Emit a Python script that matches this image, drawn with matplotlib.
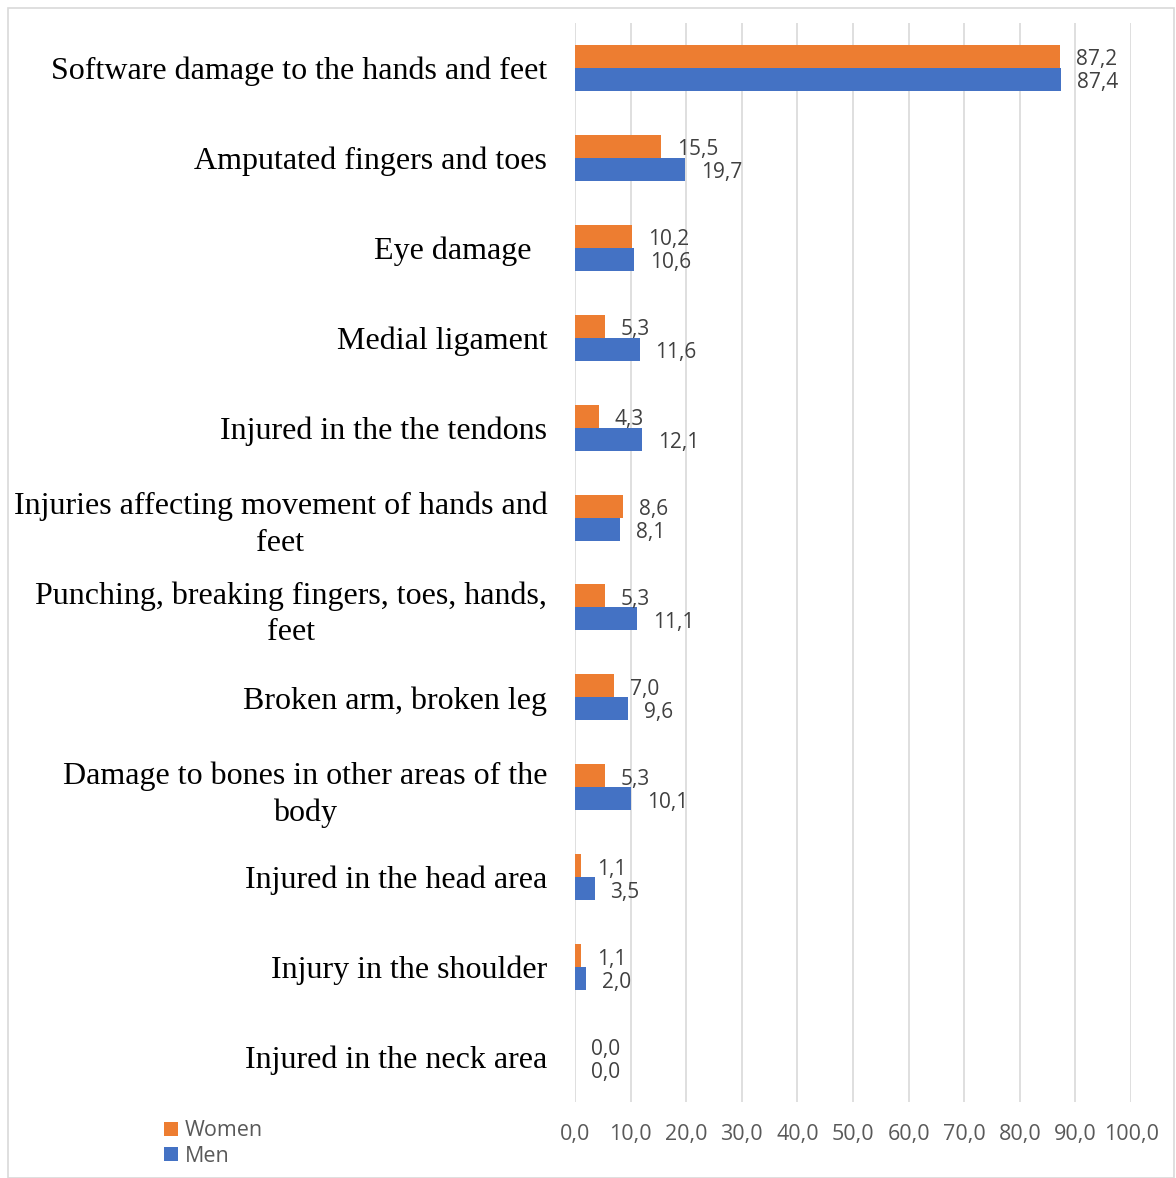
import matplotlib.pyplot as plt
import numpy as np
from matplotlib.patches import Rectangle

categories = [
    "Software damage to the hands and feet",
    "Amputated fingers and toes",
    "Eye damage  ",
    "Medial ligament",
    "Injured in the the tendons",
    "Injuries affecting movement of hands and\nfeet",
    "Punching, breaking fingers, toes, hands,\nfeet",
    "Broken arm, broken leg",
    "Damage to bones in other areas of the\nbody",
    "Injured in the head area",
    "Injury in the shoulder",
    "Injured in the neck area",
]
women = [87.2, 15.5, 10.2, 5.3, 4.3, 8.6, 5.3, 7.0, 5.3, 1.1, 1.1, 0.0]
men = [87.4, 19.7, 10.6, 11.6, 12.1, 8.1, 11.1, 9.6, 10.1, 3.5, 2.0, 0.0]
xticks = [0, 10, 20, 30, 40, 50, 60, 70, 80, 90, 100]

orange = "#ED7D31"
blue = "#4472C4"

fig = plt.figure(figsize=(11.76, 11.78), dpi=100)
ax = fig.add_axes([0.489, 0.0645, 0.4728, 0.916])

# border around the chart area
fig.patches.append(Rectangle((8 / 1176, 0), 1166 / 1176, 1 - 8 / 1178,
                             transform=fig.transFigure, fill=False,
                             edgecolor="#D9D9D9", linewidth=1.2))

y = np.arange(len(categories))
h = 0.256
bw = ax.barh(y - h / 2, women, height=h, color=orange, label="Women")
bm = ax.barh(y + h / 2, men, height=h, color=blue, label="Men")

fmt = lambda v: f"{v:.1f}".replace(".", ",")
for bars, vals in ((bw, women), (bm, men)):
    for b, v in zip(bars, vals):
        ax.annotate(fmt(v), (b.get_width(), b.get_y() + b.get_height() / 2),
                    xytext=(11.5, -2.5), textcoords="offset points",
                    ha="left", va="center", fontsize=15,
                    family="Open Sans", color="#404040")

ax.set_xlim(0, 100)
ax.set_ylim(len(categories) - 0.5, -0.5)
ax.set_xticks(xticks)
ax.set_xticklabels([fmt(t) for t in xticks], fontsize=15.5,
                   family="Open Sans", color="#595959")
ax.set_yticks(y)
ax.set_yticklabels(categories, fontsize=23, family="Liberation Serif",
                   multialignment="center", linespacing=1.33)
ax.tick_params(axis="y", length=0, pad=20)
ax.tick_params(axis="x", length=0, pad=16)
ax.grid(axis="x", color="#D9D9D9", linewidth=1.2)
ax.set_axisbelow(True)
for s in ax.spines.values():
    s.set_visible(False)

fig.legend(handles=[bw, bm], labels=["Women", "Men"], loc="upper left",
           bbox_to_anchor=(145 / 1176, 1 - 1101 / 1178), frameon=False,
           prop={"family": "Open Sans", "size": 15.5}, handlelength=0.65,
           handleheight=0.65, handletextpad=0.3, labelspacing=0.2,
           labelcolor="#595959")

fig.savefig("out.png")
